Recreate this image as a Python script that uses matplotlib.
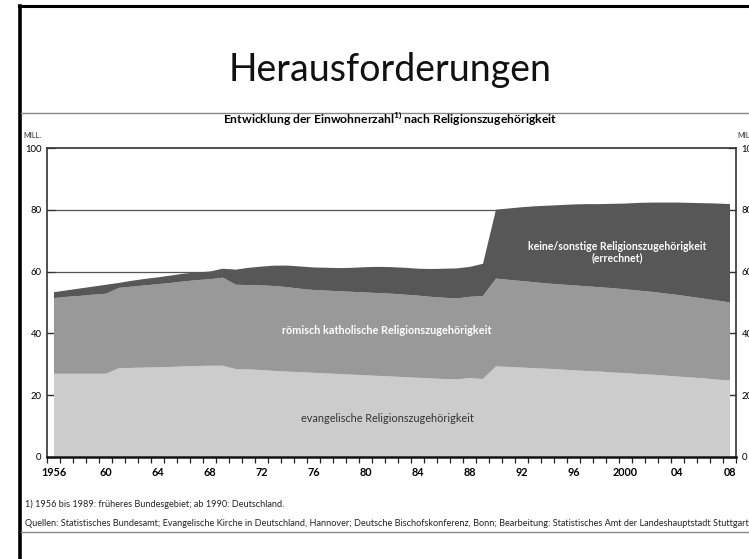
import matplotlib
matplotlib.use("Agg")
import matplotlib.pyplot as plt
from matplotlib.lines import Line2D
from matplotlib.ticker import FixedLocator, FuncFormatter

plt.rcParams['font.family'] = ['Lato', 'DejaVu Sans']

years = list(range(1956, 2009))

# upper edge of each band (Mill.)
evangelisch_top = [
    27.1, 27.1, 27.1, 27.1, 27.1, 28.9, 29.0, 29.1, 29.2, 29.3,
    29.5, 29.6, 29.7, 29.7, 28.6, 28.5, 28.3, 28.0, 27.8, 27.6,
    27.4, 27.2, 27.0, 26.8, 26.6, 26.4, 26.2, 26.0, 25.8, 25.6,
    25.4, 25.3, 25.7, 25.4, 29.5, 29.3, 29.1, 28.9, 28.7, 28.5,
    28.2, 28.0, 27.8, 27.5, 27.3, 27.0, 26.8, 26.5, 26.2, 25.9,
    25.6, 25.2, 24.9]
katholisch_top = [
    51.6, 52.0, 52.3, 52.7, 53.0, 54.9, 55.3, 55.7, 56.1, 56.5,
    57.0, 57.4, 57.7, 58.2, 55.9, 55.8, 55.7, 55.5, 55.1, 54.6,
    54.2, 54.0, 53.8, 53.6, 53.4, 53.2, 53.0, 52.7, 52.4, 52.0,
    51.7, 51.5, 52.0, 52.3, 57.9, 57.5, 57.1, 56.7, 56.3, 56.0,
    55.7, 55.4, 55.1, 54.8, 54.4, 54.0, 53.6, 53.1, 52.6, 52.0,
    51.4, 50.8, 50.2]
einwohner_gesamt = [
    53.5, 54.1, 54.7, 55.3, 55.9, 56.5, 57.2, 57.8, 58.3, 58.9,
    59.5, 59.9, 60.2, 61.1, 60.8, 61.4, 61.8, 62.1, 62.1, 61.8,
    61.5, 61.4, 61.3, 61.4, 61.6, 61.7, 61.6, 61.4, 61.1, 61.0,
    61.1, 61.2, 61.7, 62.7, 80.2, 80.6, 81.0, 81.3, 81.5, 81.7,
    81.9, 82.0, 82.0, 82.1, 82.2, 82.4, 82.5, 82.5, 82.5, 82.4,
    82.3, 82.2, 82.0]

label_years = [1956, 1960, 1964, 1968, 1972, 1976, 1980, 1984, 1988,
               1992, 1996, 2000, 2004, 2008]


def year_label(x, pos):
    x = int(round(x))
    if x in (1956, 2000):
        return str(x)
    return f"{x % 100:02d}"


def main():
    fig = plt.figure(figsize=(7.49, 5.59), dpi=100)

    # slide frame
    fig.add_artist(Line2D([19 / 749, 1], [1 - 6 / 559, 1 - 6 / 559],
                          color='black', lw=2.2))
    fig.add_artist(Line2D([20 / 749, 20 / 749], [0, 1 - 6 / 559],
                          color='black', lw=2.6))
    fig.add_artist(Line2D([21 / 749, 1], [1 - 113 / 559, 1 - 113 / 559],
                          color='#888888', lw=1.0))
    fig.add_artist(Line2D([21 / 749, 1], [1 - 532 / 559, 1 - 532 / 559],
                          color='#888888', lw=1.0))

    fig.text(390 / 749, 1 - 70 / 559, "Herausforderungen", fontsize=27,
             ha='center', va='center', color='#111111')
    fig.text(390 / 749, 1 - 119 / 559,
             r"Entwicklung der Einwohnerzahl$^{\mathregular{1)}}$ nach "
             "Religionszugehörigkeit",
             fontsize=8.7, fontweight='bold', ha='center', va='center')

    ax = fig.add_axes([47 / 749, 102 / 559, 689 / 749, 309 / 559])

    ax.fill_between(years, 0, evangelisch_top, color='#cccccc', lw=0,
                    zorder=2)
    ax.fill_between(years, evangelisch_top, katholisch_top,
                    color='#999999', lw=0, zorder=2)
    ax.fill_between(years, katholisch_top, einwohner_gesamt,
                    color='#575757', lw=0, zorder=2)

    for v in (20, 40, 60, 80):
        ax.axhline(v, color='#555555', lw=0.9, zorder=1)

    ax.set_xlim(1955.5, 2008.5)
    ax.set_ylim(0, 100)

    ax.xaxis.set_major_locator(FixedLocator(label_years))
    ax.xaxis.set_major_formatter(FuncFormatter(year_label))
    ax.xaxis.set_minor_locator(FixedLocator([y - 0.5 for y in
                                             range(1956, 2010)]))
    ax.tick_params(axis='x', which='major', length=0, pad=7,
                   labelsize=7.8)
    ax.tick_params(axis='x', which='minor', direction='out', length=4,
                   width=0.9, color='#222222')
    for lbl in ax.get_xticklabels():
        lbl.set_fontweight('bold')

    ax.set_yticks([0, 20, 40, 60, 80, 100])
    ax.tick_params(axis='y', direction='in', length=6, width=0.9,
                   right=True, labelright=True, labelsize=6.8, pad=4,
                   color='#333333')

    for side in ('left', 'right', 'top'):
        ax.spines[side].set_color('#333333')
        ax.spines[side].set_linewidth(1.2)
    ax.spines['bottom'].set_color('#111111')
    ax.spines['bottom'].set_linewidth(1.8)

    ax.text(1981.7, 12.6, "evangelische Religionszugehörigkeit",
            fontsize=7.8, color='#333333', ha='center', va='center',
            zorder=3)
    ax.text(1981.6, 41.1, "römisch katholische Religionszugehörigkeit",
            fontsize=7.8, color='white', fontweight='bold',
            ha='center', va='center', zorder=3)
    ax.text(1999.4, 66.2,
            "keine/sonstige Religionszugehörigkeit\n(errechnet)",
            fontsize=7.6, color='white', fontweight='bold',
            ha='center', va='center', linespacing=1.0, zorder=3)

    fig.text(23 / 749, 1 - 136 / 559, "MILL.", fontsize=5.4,
             color='#333333', va='center')
    fig.text(737 / 749, 1 - 136 / 559, "MILL.", fontsize=5.4,
             color='#333333', va='center')

    fig.text(25 / 749, 1 - 504 / 559,
             "1) 1956 bis 1989: früheres Bundesgebiet; ab 1990: "
             "Deutschland.", fontsize=6.6, va='center', color='#222222')
    fig.text(25 / 749, 1 - 523 / 559,
             "Quellen: Statistisches Bundesamt; Evangelische Kirche in "
             "Deutschland, Hannover; Deutsche Bischofskonferenz, Bonn; "
             "Bearbeitung: Statistisches Amt der Landeshauptstadt Stuttgart",
             fontsize=6.6, va='center', color='#222222')

    fig.savefig("out.png", dpi=100)


if __name__ == "__main__":
    main()
